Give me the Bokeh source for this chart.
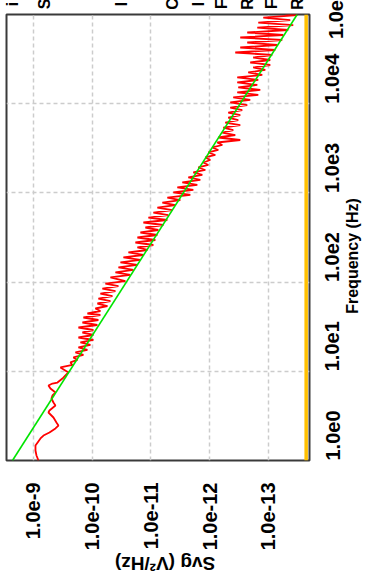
import math
import numpy as np
from bokeh.plotting import figure
from bokeh.models import Range1d, FixedTicker, Div
from bokeh.embed import file_html
from bokeh.resources import INLINE

# ---------------- data ----------------
freq_ticks = [1.0, 10.0, 100.0, 1000.0, 10000.0, 100000.0]
freq_tick_labels = ["1.0e0", "1.0e1", "1.0e2", "1.0e3", "1.0e4", ""]
top_freq_label = "1.0e5"
svg_ticks = [1e-9, 1e-10, 1e-11, 1e-12, 1e-13]
svg_tick_labels = ["1.0e-9", "1.0e-10", "1.0e-11", "1.0e-12", "1.0e-13"]
x_title = "Svg (V\u00b2/Hz)"
y_title = "Frequency (Hz)"
# legend entries clipped at the top edge (only their first letters show)
legend_letters = ["i", "S", "I", "C", "I", "F", "R", "F", "R"]

# measured spectrum (log10 of frequency in Hz, log10 of Svg in V^2/Hz)
red_log_freq = [
    0.000, 0.056, 0.112, 0.168, 0.247, 0.280, 0.314, 0.359, 0.392, 0.426,
    0.482, 0.538, 0.561, 0.617, 0.650, 0.695, 0.729, 0.762, 0.807, 0.841,
    0.863, 0.874, 0.919, 0.953, 0.987,
    1.043, 1.071, 1.099, 1.127, 1.155, 1.183, 1.211, 1.239, 1.267, 1.295,
    1.323, 1.351, 1.379, 1.407, 1.435, 1.463, 1.491, 1.519, 1.547, 1.575,
    1.603, 1.631, 1.648, 1.676, 1.704, 1.732, 1.760, 1.788, 1.816, 1.844,
    1.872, 1.900, 1.928, 1.956, 1.984, 2.012, 2.052, 2.080, 2.108, 2.136,
    2.164, 2.192, 2.220, 2.248, 2.276, 2.304, 2.332, 2.360, 2.388, 2.416,
    2.444, 2.472, 2.500, 2.528, 2.556, 2.584, 2.612, 2.640, 2.668, 2.696,
    2.724, 2.752, 2.780, 2.808, 2.836, 2.864, 2.892, 2.920, 2.948, 2.977,
    3.005, 3.033, 3.061, 3.089, 3.117, 3.145, 3.173, 3.201, 3.229, 3.257,
    3.285, 3.313, 3.341, 3.369, 3.397, 3.425, 3.453, 3.481, 3.509, 3.537,
    3.565, 3.593, 3.621, 3.649, 3.677, 3.705, 3.733, 3.761, 3.789, 3.817,
    3.845, 3.873, 3.901, 3.929, 3.957, 3.985, 4.014, 4.042, 4.070, 4.098,
    4.126, 4.154, 4.182, 4.210, 4.238, 4.266, 4.294, 4.322, 4.350, 4.378,
    4.406, 4.434, 4.462, 4.490, 4.518, 4.546, 4.574, 4.602, 4.630, 4.658,
    4.686, 4.714, 4.742, 4.770, 4.798, 4.826, 4.854, 4.882, 4.910, 4.938,
    4.966, 4.994, 5.011, 5.039,
]
red_log_svg = [
    -9.085, -9.051, -9.034, -9.034, -9.119, -9.170, -9.272, -9.374, -9.425, -9.391,
    -9.340, -9.255, -9.272, -9.374, -9.340, -9.306, -9.323, -9.374, -9.289, -9.255,
    -9.323, -9.408, -9.493, -9.544, -9.595,
    -9.459, -9.663, -9.629, -9.748, -9.680, -9.850, -9.714, -9.918, -9.765, -9.969,
    -9.799, -10.020, -9.765, -10.020, -9.833, -10.020, -9.765, -10.088, -9.833, -10.105,
    -9.850, -10.139, -9.918, -10.139, -10.054, -10.259, -10.088, -10.310, -10.105, -10.344,
    -10.139, -10.395, -10.173, -10.446, -10.224, -10.565, -10.310, -10.650, -10.395, -10.701,
    -10.446, -10.769, -10.480, -10.820, -10.531, -10.871, -10.616, -10.939, -10.769, -11.041,
    -10.735, -11.075, -10.769, -11.109, -10.820, -11.126, -10.905, -11.211, -10.871, -11.279,
    -10.956, -11.296, -11.041, -11.364, -11.109, -11.415, -11.194, -11.500, -11.279, -11.670,
    -11.381, -11.721, -11.449, -11.789, -11.534, -11.840, -11.636, -11.874, -11.721, -11.925,
    -11.806, -11.976, -11.891, -12.010, -11.925, -12.095, -11.976, -12.146, -12.044, -12.214,
    -12.129, -12.520, -12.146, -12.435, -12.214, -12.401, -12.231, -12.520, -12.265, -12.486,
    -12.316, -12.520, -12.316, -12.554, -12.350, -12.639, -12.350, -12.690, -12.401, -12.827,
    -12.469, -12.861, -12.486, -12.810, -12.469, -12.827, -12.469, -12.895, -12.656, -12.946,
    -12.741, -13.031, -12.690, -13.031, -12.741, -13.065, -12.435, -13.116, -12.520, -13.150,
    -12.639, -13.235, -12.520, -13.252, -12.639, -13.337, -12.810, -13.422, -12.827, -13.371,
    -12.912, -13.490, -13.286, -13.541,
]

# fitted 1/f line
fit_freq = [1.0, 100000.0]
fit_svg = [2.28e-9, 3.24e-14]

# floor series
floor_freq = [1.0, 100000.0]
floor_svg = [2.28e-14, 2.28e-14]

red_freq = 10.0 ** np.array(red_log_freq)
red_svg = 10.0 ** np.array(red_log_svg)

# ---------------- figure ----------------
FONT = "Liberation Sans"
FW, FH = 303, 446

p = figure(
    frame_width=FW, frame_height=FH,
    x_axis_type="log", y_axis_type="log",
    x_range=Range1d(2.88e-9, 2.0e-14), y_range=Range1d(1.0, 1.0e5),
    y_axis_location="right",
    toolbar_location=None, output_backend="svg",
    min_border_left=6, min_border_top=14, min_border_right=57, min_border_bottom=114,
    background_fill_color="white", border_fill_color="white",
)

p.outline_line_color = "#3a3a3a"
p.outline_line_width = 2

xt = FixedTicker(ticks=svg_ticks)
yt = FixedTicker(ticks=freq_ticks)
p.xaxis.ticker = xt
p.yaxis.ticker = yt
p.xgrid.ticker = xt
p.ygrid.ticker = yt
p.xaxis.major_label_overrides = dict(zip(svg_ticks, svg_tick_labels))
p.yaxis.major_label_overrides = dict(zip(freq_ticks, freq_tick_labels))

for ax in (p.xaxis, p.yaxis):
    ax.axis_line_color = None
    ax.major_tick_line_color = None
    ax.minor_tick_line_color = None
    ax.major_label_text_font = FONT
    ax.major_label_text_font_style = "bold"
    ax.major_label_text_font_size = "20px"
    ax.major_label_text_color = "black"

p.xaxis.major_label_orientation = math.pi / 2
p.yaxis.major_label_orientation = math.pi / 2
p.xaxis.major_label_standoff = 16
p.yaxis.major_label_standoff = 17

for g in (p.xgrid, p.ygrid):
    g.grid_line_color = "#cccccc"
    g.grid_line_width = 1.5
    g.grid_line_dash = "4 3"

p.line(red_svg, red_freq, line_color="#ff0000", line_width=1.8)
p.line(fit_svg, fit_freq, line_color="#00e400", line_width=1.6)
p.line(floor_svg, floor_freq, line_color="#ffc000", line_width=3.5)


def text_div(text, cx, cy, angle_deg, size):
    inner = (
        '<div style="position:absolute;left:0;top:0;white-space:nowrap;'
        f"transform:translate(-50%,-50%) rotate({angle_deg}deg);"
        f"font-family:'{FONT}';font-weight:bold;font-size:{size}px;"
        f'line-height:1.15;color:black;">{text}</div>'
    )
    return Div(
        text=inner,
        styles={
            "position": "absolute", "left": f"{cx}px", "top": f"{cy}px",
            "width": "1px", "height": "1px", "overflow": "visible", "z-index": "10",
        },
    )


overlay = [
    text_div(x_title, 165, 563, 180, 19),
    text_div(y_title, 353, 256, -90, 16),
    text_div(top_freq_label, 336, 14, -90, 20),
]
letter_x = [13, 45, 122, 173, 199, 222, 248, 272, 298]
for lx, ch in zip(letter_x, legend_letters):
    overlay.append(text_div(ch, lx, 4, -90, 16))

p.elements = overlay

open("out.html", "w").write(file_html(p, INLINE))
